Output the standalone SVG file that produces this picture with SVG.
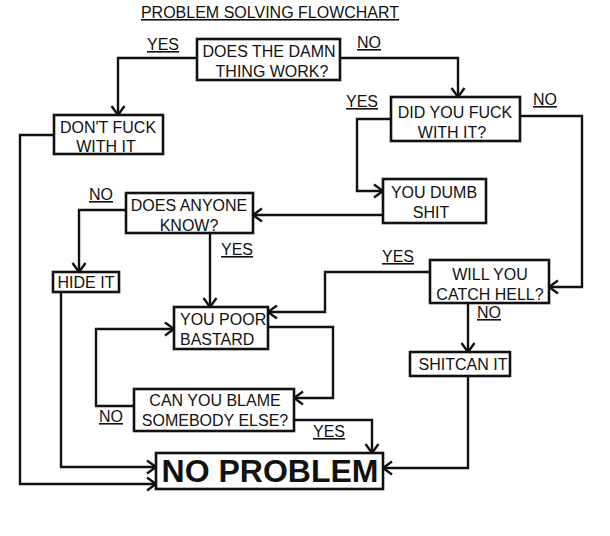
<svg xmlns="http://www.w3.org/2000/svg" width="610" height="536" viewBox="0 0 610 536">
<style>
.box{fill:#fff;stroke:#111;stroke-width:2.6}
.t{font-family:"Liberation Sans",Arial,sans-serif;font-size:16px;fill:#111;text-anchor:middle}
.l{font-family:"Liberation Sans",Arial,sans-serif;font-size:16px;fill:#111;text-decoration:underline}
.c{fill:none;stroke:#111;stroke-width:2.4;marker-end:url(#ah)}
</style>
<defs>
<marker id="ah" viewBox="-11 -8 13 16" markerWidth="13" markerHeight="16" refX="0" refY="0" orient="auto" markerUnits="userSpaceOnUse">
<path d="M-9,-6.5 L0,0 L-9,6.5" fill="none" stroke="#111" stroke-width="2.4"/>
</marker>
</defs>
<rect width="610" height="536" fill="#fff"/>
<text x="270" y="18" class="t" style="text-decoration:underline">PROBLEM SOLVING FLOWCHART</text>

<g id="connectors">
<path class="c" d="M198,58 H118 V115"/>
<path class="c" d="M340,58 H458 V97"/>
<path class="c" d="M391,119 H357 V191 H383"/>
<path class="c" d="M520,116 H582 V287 H549"/>
<path class="c" d="M383,215 H253"/>
<path class="c" d="M126,210 H79 V272"/>
<path class="c" d="M210,233 V307"/>
<path class="c" d="M430,272 H325 V312 H268"/>
<path class="c" d="M468,303 V352"/>
<path class="c" d="M268,327 H333 V398 H294"/>
<path class="c" d="M134,406 H96 V329 H174"/>
<path class="c" d="M294,420 H372 V453"/>
<path class="c" d="M468,376 V468 H383"/>
<path class="c" d="M61,292 V467 H156"/>
<path class="c" d="M54,135 H20 V484 H156"/>
</g>

<g id="labels">
<text x="147" y="50" class="l">YES</text>
<text x="357" y="48" class="l">NO</text>
<text x="346" y="107" class="l">YES</text>
<text x="533" y="105" class="l">NO</text>
<text x="89" y="200" class="l">NO</text>
<text x="221" y="255" class="l">YES</text>
<text x="382" y="262" class="l">YES</text>
<text x="477" y="318" class="l">NO</text>
<text x="99" y="422" class="l">NO</text>
<text x="313" y="437" class="l">YES</text>
</g>

<g id="n-works">
<rect class="box" x="197" y="39" width="143" height="41"/>
<text class="t" x="269" y="57">DOES THE DAMN</text>
<text class="t" x="272" y="77">THING WORK?</text>
</g>
<g id="n-dontfuck">
<rect class="box" x="54" y="115" width="109" height="39"/>
<text class="t" x="108" y="133">DON'T FUCK</text>
<text class="t" x="106" y="152">WITH IT</text>
</g>
<g id="n-didyou">
<rect class="box" x="391" y="97" width="129" height="44"/>
<text class="t" x="455" y="118">DID YOU FUCK</text>
<text class="t" x="452" y="138">WITH IT?</text>
</g>
<g id="n-dumb">
<rect class="box" x="383" y="179" width="103" height="44"/>
<text class="t" x="434" y="198">YOU DUMB</text>
<text class="t" x="431" y="218">SHIT</text>
</g>
<g id="n-anyone">
<rect class="box" x="126" y="193" width="127" height="40"/>
<text class="t" x="189" y="211">DOES ANYONE</text>
<text class="t" x="189" y="231">KNOW?</text>
</g>
<g id="n-hide">
<rect class="box" x="53" y="272" width="66" height="20"/>
<text class="t" x="86" y="288">HIDE IT</text>
</g>
<g id="n-hell">
<rect class="box" x="430" y="260" width="119" height="43"/>
<text class="t" x="490" y="280">WILL YOU</text>
<text class="t" x="490" y="300">CATCH HELL?</text>
</g>
<g id="n-poor">
<rect class="box" x="174" y="307" width="94" height="42"/>
<text class="t" x="180" y="325" style="text-anchor:start">YOU POOR</text>
<text class="t" x="180" y="345" style="text-anchor:start">BASTARD</text>
</g>
<g id="n-shitcan">
<rect class="box" x="410" y="352" width="100" height="24"/>
<text class="t" x="463" y="370">SHITCAN IT</text>
</g>
<g id="n-blame">
<rect class="box" x="134" y="389" width="160" height="42"/>
<text class="t" x="215" y="406">CAN YOU BLAME</text>
<text class="t" x="215" y="426">SOMEBODY ELSE?</text>
</g>
<g id="n-noproblem">
<rect class="box" x="156" y="453" width="227" height="36"/>
<text class="t" x="270" y="482" style="font-size:32px;font-weight:bold">NO PROBLEM</text>
</g>
</svg>
